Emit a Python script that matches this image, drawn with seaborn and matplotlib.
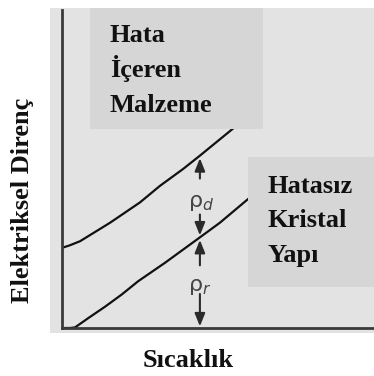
import numpy as np
import matplotlib
matplotlib.use("Agg")
import matplotlib.pyplot as plt
from matplotlib.patches import Rectangle
import seaborn as sns

# Resistivity vs. temperature (arbitrary units)
t_defect = [0.0, 0.25, 0.58, 1.54, 2.50, 3.14, 3.88, 4.42, 5.48, 5.90]
rho_defect = [2.52, 2.60, 2.73, 3.31, 3.95, 4.47, 5.00, 5.42, 6.27, 6.60]

t_pure = [0.0, 0.26, 0.42, 0.84, 1.38, 1.91, 2.44, 3.30, 4.42, 5.06, 6.03, 6.60]
rho_pure = [0.0, 0.0, 0.02, 0.31, 0.67, 1.05, 1.47, 2.05, 2.85, 3.31, 4.11, 4.55]

t_marker = 4.42  # temperature where the two contributions are shown

box_defect_lines = ["Hata", "İçeren", "Malzeme"]
box_pure_lines = ["Hatasız", "Kristal", "Yapı"]
x_label = "Sıcaklık"
y_label = "Elektriksel Direnç"

sns.set_theme(style="white")
plt.rcParams["font.family"] = ["Liberation Serif", "DejaVu Serif"]
plt.rcParams["mathtext.fontset"] = "dejavusans"

W, H = 374, 376
BG = "#e3e3e3"
BOX = "#d6d6d6"
fig = plt.figure(figsize=(W / 100, H / 100), dpi=100)
fig.patch.set_facecolor("white")


def fx(px):
    return px / W


def fy(py):
    return 1 - py / H


# light panel behind the axes
fig.patches.append(Rectangle((fx(50), fy(333)), fx(374) - fx(50), fy(8) - fy(333),
                             transform=fig.transFigure, facecolor=BG,
                             edgecolor="none", zorder=-5))

ax = fig.add_axes([fx(62), fy(328), fx(374) - fx(62), fy(10) - fy(328)])
ax.set_zorder(1)
ax.set_facecolor(BG)
ax.set_xlim(0, 10)
ax.set_ylim(0, 10)

sns.lineplot(x=t_defect, y=rho_defect, ax=ax, color="#111111", lw=1.6,
             estimator=None, sort=False, zorder=2)
sns.lineplot(x=t_pure, y=rho_pure, ax=ax, color="#111111", lw=1.6,
             estimator=None, sort=False, zorder=2)
for line in ax.lines:
    line.set_solid_joinstyle("round")

for side in ("top", "right"):
    ax.spines[side].set_visible(False)
for side in ("left", "bottom"):
    ax.spines[side].set_color("#3a3a3a")
    ax.spines[side].set_linewidth(2.0)
ax.set_xticks([])
ax.set_yticks([])

# arrows marking the defect and thermal contributions
r_top = np.interp(t_marker, t_defect, rho_defect)
r_mid = np.interp(t_marker, t_pure, rho_pure)
arrow_kw = dict(arrowstyle="-|>,head_length=0.55,head_width=0.22",
                color="#2a2a2a", lw=1.5, shrinkA=0, shrinkB=0)


def arrow(y0, y1):
    ax.annotate("", xy=(t_marker, y1), xytext=(t_marker, y0),
                arrowprops=dict(arrow_kw, mutation_scale=14), zorder=3)


arrow(r_top - 0.72, r_top - 0.08)
arrow(r_mid + 0.72, r_mid + 0.06)
arrow(r_mid - 0.88, r_mid - 0.08)
arrow(r_mid - 1.78, 0.05)

ax.text(t_marker + 0.05, 3.92, r"ρ$_{d}$", ha="center",
        va="center", fontsize=16, color="#444444", zorder=3,
        family=["DejaVu Sans"])
ax.text(t_marker + 0.0, 1.28, r"ρ$_{r}$", ha="center",
        va="center", fontsize=16, color="#444444", zorder=3,
        family=["DejaVu Sans"])

# label boxes
ax.add_patch(Rectangle((fx(90), fy(129)), fx(263) - fx(90), fy(8) - fy(129),
                       transform=fig.transFigure, facecolor=BOX,
                       edgecolor="none", zorder=4, clip_on=False))
ax.add_patch(Rectangle((fx(248), fy(287)), fx(374) - fx(248), fy(157) - fy(287),
                       transform=fig.transFigure, facecolor=BOX,
                       edgecolor="none", zorder=4, clip_on=False))

for text, base in zip(box_defect_lines, [42, 77, 112]):
    ax.text(fx(110), fy(base), text, fontsize=19, fontweight="bold",
            va="baseline", ha="left", color="#111111", zorder=5,
            transform=fig.transFigure, clip_on=False)
for text, base in zip(box_pure_lines, [193, 227, 262]):
    ax.text(fx(268), fy(base), text, fontsize=19, fontweight="bold",
            va="baseline", ha="left", color="#111111", zorder=5,
            transform=fig.transFigure, clip_on=False)

ax.set_xlabel(x_label, fontsize=19, fontweight="bold", color="#111111")
ax.xaxis.label.set_va("baseline")
ax.xaxis.set_label_coords((188 - 62) / 312, -(367 - 328) / 318)
ax.set_ylabel(y_label, fontsize=19, fontweight="bold", color="#111111")
ax.yaxis.label.set_va("center")
ax.yaxis.set_label_coords((23 - 62) / 312, (328 - 200) / 318)

fig.savefig("out.png", dpi=100, facecolor="white")
